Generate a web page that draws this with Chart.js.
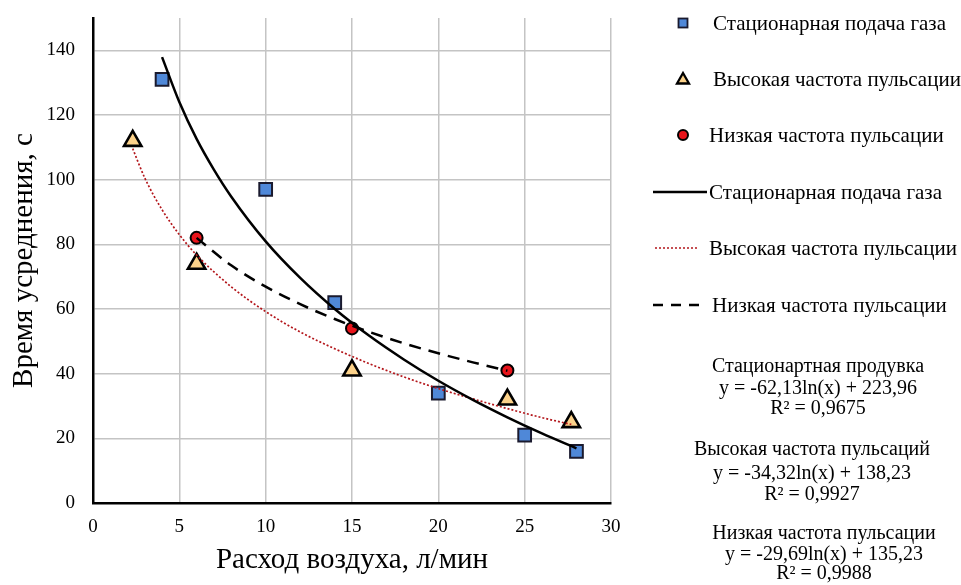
<!DOCTYPE html>
<html><head><meta charset="utf-8">
<script src="https://cdn.jsdelivr.net/npm/chart.js@4"></script>
<style>
body{margin:0;background:#fff;}
#wrap{position:relative;width:961px;height:585px;font-family:"Liberation Serif","Times New Roman",serif;color:#000;background:#fff;overflow:hidden;}
canvas{position:absolute;left:0;top:0;}
.t{position:absolute;white-space:nowrap;font-size:20px;line-height:22px;height:22px;}
.lg{font-size:21px;}
.c{transform:translateX(-50%);}
svg{position:absolute;overflow:visible;}
</style></head><body>
<div id="wrap"><canvas id="c" width="961" height="585"></canvas></div>
<script>
// ---- data ----
const stationaryX = [4, 10, 14, 20, 25, 28];
const stationaryY = [131, 97, 62, 34, 21, 16];
const highX = [2.3, 6, 15, 24, 27.7];
const highY = [112, 74, 41, 32, 25];
const lowX = [6, 15, 24];
const lowY = [82, 54, 41];
// trend curves
const stationaryTrendX = [4, 5, 6, 7, 8, 10, 12, 14, 16, 18, 20, 22, 24, 26, 28];
const stationaryTrendY = [137.9, 124.0, 112.6, 103.1, 94.8, 80.9, 69.6, 60.0, 51.7, 44.4, 37.8, 31.9, 26.5, 21.5, 16.9];
const highTrendX = [2.3, 3, 4, 5, 6, 8, 10, 12, 14, 16, 18, 20, 22, 24, 26, 27.7];
const highTrendY = [109.6, 100.5, 90.7, 83.0, 76.7, 66.9, 59.2, 52.9, 47.7, 43.1, 39.0, 35.4, 32.2, 29.2, 26.4, 24.3];
const lowTrendX = [6, 8, 10, 12, 14, 16, 18, 20, 22, 24];
const lowTrendY = [82.0, 73.5, 66.9, 61.5, 56.9, 52.9, 49.4, 46.3, 43.5, 40.9];
const xTicks = [0, 5, 10, 15, 20, 25, 30];
const yTicks = [0, 20, 40, 60, 80, 100, 120, 140];
const seriesNames = ['Стационарная подача газа', 'Высокая частота пульсации', 'Низкая частота пульсации'];
const xTitle = 'Расход воздуха, л/мин';
const yTitle = 'Время усреднения, с';
const eqStationary = ['Стационартная продувка', 'y = -62,13ln(x) + 223,96', 'R² = 0,9675'];
const eqHigh = ['Высокая частота пульсаций', 'y = -34,32ln(x) + 138,23', 'R² = 0,9927'];
const eqLow = ['Низкая частота пульсации', 'y = -29,69ln(x) + 135,23', 'R² = 0,9988'];

const FAM = '"Liberation Serif","Times New Roman",serif';
const pts = (xs, ys) => xs.map((x, i) => ({x: x, y: ys[i]}));

const COL_SQ = '#4f88d8', COL_TRI = '#fcd28a', COL_CIR = '#e8141b', COL_RED = '#b3161b';

new Chart(document.getElementById('c'), {
  type: 'scatter',
  data: {
    datasets: [
      {label: seriesNames[0] + ' (тренд)', data: pts(stationaryTrendX, stationaryTrendY), showLine: true, borderColor: '#000', borderWidth: 2.5, pointRadius: 0, cubicInterpolationMode: 'monotone', order: 1},
      {label: seriesNames[1] + ' (тренд)', data: pts(highTrendX, highTrendY), showLine: true, borderColor: COL_RED, borderWidth: 1.7, borderDash: [2, 2], pointRadius: 0, cubicInterpolationMode: 'monotone', order: 1},
      {label: seriesNames[2] + ' (тренд)', data: pts(lowTrendX, lowTrendY), showLine: true, borderColor: '#000', borderWidth: 2.5, borderDash: [12, 8], pointRadius: 0, cubicInterpolationMode: 'monotone', order: 1},
      {label: seriesNames[0], data: pts(stationaryX, stationaryY), pointStyle: 'rect', pointRadius: 9, backgroundColor: COL_SQ, borderColor: '#1a1a2e', borderWidth: 2, order: 2},
      {label: seriesNames[1], data: pts(highX, highY), pointStyle: 'triangle', pointRadius: 10, backgroundColor: COL_TRI, borderColor: '#000', borderWidth: 2.6, order: 2},
      {label: seriesNames[2], data: pts(lowX, lowY), pointStyle: 'circle', pointRadius: 6, backgroundColor: COL_CIR, borderColor: '#000', borderWidth: 2, order: 2}
    ]
  },
  options: {
    responsive: false,
    animation: false,
    layout: {autoPadding: false, padding: {left: 0, right: 350, top: 18, bottom: 0}},
    plugins: {legend: {display: false}, tooltip: {enabled: false}},
    scales: {
      x: {
        type: 'linear', min: 0, max: 30,
        afterBuildTicks: s => { s.ticks = xTicks.map(v => ({value: v})); },
        afterFit: s => { s.height = 82; s.paddingLeft = 0; s.paddingRight = 0; },
        grid: {color: '#c4c4c4', lineWidth: 1.5, drawTicks: false},
        border: {color: '#000', width: 2.5},
        ticks: {font: {family: FAM, size: 19}, color: '#000', padding: 13, maxRotation: 0},
        title: {display: true, text: xTitle, font: {family: FAM, size: 29}, color: '#000', padding: {top: 0, bottom: 7}}
      },
      y: {
        type: 'linear', min: 0, max: 150,
        afterBuildTicks: s => { s.ticks = yTicks.map(v => ({value: v})); },
        afterFit: s => { s.width = 93; s.paddingTop = 0; s.paddingBottom = 0; },
        grid: {color: '#c4c4c4', lineWidth: 1.5, drawTicks: false},
        border: {color: '#000', width: 2.5},
        ticks: {font: {family: FAM, size: 19}, color: '#000', padding: 18},
        title: {display: true, text: yTitle, font: {family: FAM, size: 29}, color: '#000', padding: {top: 7, bottom: 0}}
      }
    }
  }
});

// ---- legend and equation texts (HTML) ----
const wrap = document.getElementById('wrap');
function text(str, x, y, center, cls) {
  const d = document.createElement('div');
  d.className = 't' + (center ? ' c' : '') + (cls ? ' ' + cls : '');
  d.textContent = str;
  d.style.left = x + 'px';
  d.style.top = (y - 11) + 'px';
  wrap.appendChild(d);
}
function svg(html, x, y) {
  const s = document.createElementNS('http://www.w3.org/2000/svg', 'svg');
  s.setAttribute('width', '1'); s.setAttribute('height', '1');
  s.style.left = x + 'px'; s.style.top = y + 'px';
  s.innerHTML = html;
  wrap.appendChild(s);
}
const legendY = [23, 79, 135, 192, 248, 305];
svg('<rect x="-4.5" y="-4.5" width="9" height="9" fill="' + COL_SQ + '" stroke="#1a1a2e" stroke-width="1.8"/>', 683, legendY[0]);
svg('<polygon points="0,-6 6,4.5 -6,4.5" fill="' + COL_TRI + '" stroke="#000" stroke-width="2.3" stroke-linejoin="miter"/>', 683, legendY[1]);
svg('<circle r="5" fill="' + COL_CIR + '" stroke="#000" stroke-width="2"/>', 683, legendY[2]);
svg('<line x1="653" y1="0" x2="707" y2="0" stroke="#000" stroke-width="2.5"/>', 0, legendY[3]);
svg('<line x1="655" y1="0" x2="698" y2="0" stroke="' + COL_RED + '" stroke-width="1.7" stroke-dasharray="2,2"/>', 0, legendY[4]);
svg('<line x1="653" y1="0" x2="707" y2="0" stroke="#000" stroke-width="2.5" stroke-dasharray="10,8"/>', 0, legendY[5]);
text(seriesNames[0], 713, legendY[0], false, 'lg');
text(seriesNames[1], 713, legendY[1], false, 'lg');
text(seriesNames[2], 709, legendY[2], false, 'lg');
text(seriesNames[0], 709, legendY[3], false, 'lg');
text(seriesNames[1], 709, legendY[4], false, 'lg');
text(seriesNames[2], 712, legendY[5], false, 'lg');

const eqBlocks = [[eqStationary, 818, [365, 387, 407]], [eqHigh, 812, [448, 472, 493]], [eqLow, 824, [532, 553, 572]]];
eqBlocks.forEach(b => b[0].forEach((line, i) => text(line, b[1], b[2][i], true)));
</script>
</body></html>
